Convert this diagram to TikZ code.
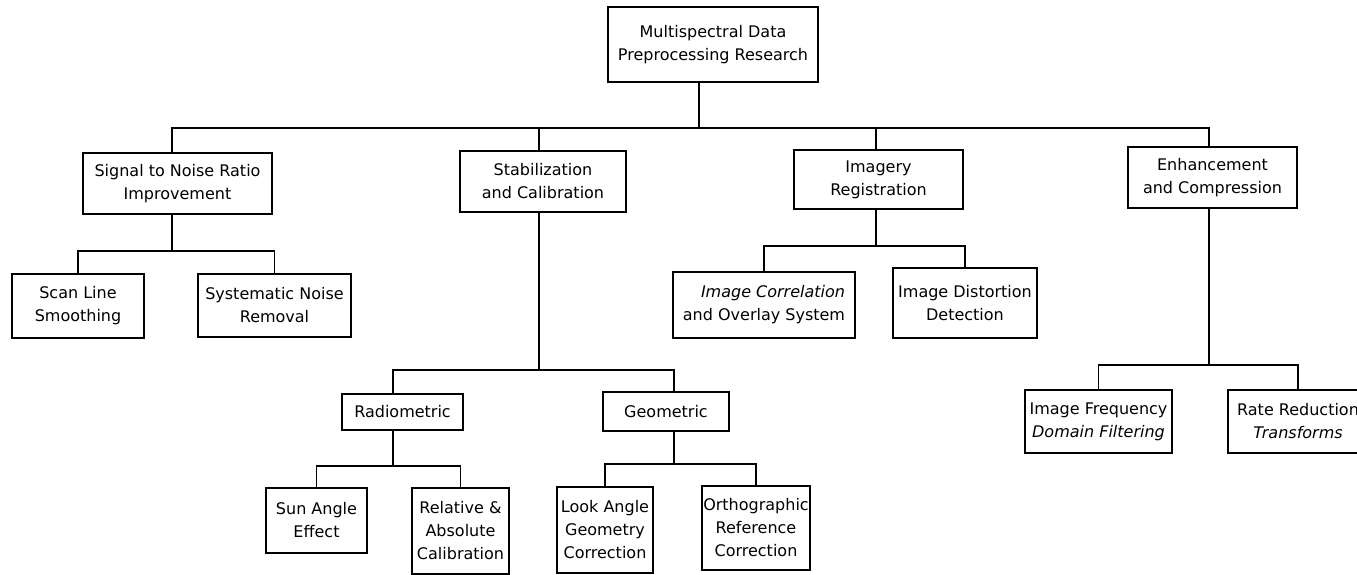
\documentclass[tikz,border=0pt]{standalone}
\usepackage{fontspec}
\setmainfont{DejaVu Sans}
\usepackage{tikz}
\tikzstyle{box} = [rectangle, draw=black, line width=1.6pt, align=center, inner sep=1pt, font=\fontsize{16}{23}\selectfont]
\tikzstyle{line} = [line width=1.6pt]

\begin{document}
\begin{tikzpicture}[x=1pt, y=-1pt]
    \fill[white] (0,0) rectangle (1357,575);
    \useasboundingbox (0,0) rectangle (1357,575);

    % Top
    \node[box, minimum width=210pt, minimum height=75pt] (root) at (713,44.5) {Multispectral Data\\Preprocessing Research};

    % First level
    \node[box, minimum width=189pt, minimum height=61pt] (sig) at (177.5,183.5) {Signal to Noise Ratio\\Improvement};
    \node[box, minimum width=166pt, minimum height=61pt] (stab) at (543,181.5) {Stabilization\\and Calibration};
    \node[box, minimum width=169pt, minimum height=59pt] (img) at (878.5,179.5) {Imagery\\Registration};
    \node[box, minimum width=169pt, minimum height=61pt] (enh) at (1212.5,177.5) {Enhancement\\and Compression};

    % Signal to noise
    \node[box, minimum width=132pt, minimum height=64pt] (scan) at (78,306) {Scan Line\\Smoothing};
    \node[box, minimum width=153pt, minimum height=63pt] (sys) at (274.5,305.5) {Systematic Noise\\Removal};

    % Registration
    \node[box, align=right, minimum width=182pt, minimum height=66pt] (corr) at (764,305) {\itshape Image Correlation\\and Overlay System};
    \node[box, minimum width=144pt, minimum height=70pt] (dist) at (965,303) {Image Distortion\\Detection};

    % Enhancement
    \node[box, minimum width=147pt, minimum height=63pt] (freq) at (1098.5,421.5) {Image Frequency\\\textit{Domain Filtering}};
    \node[box, minimum width=140pt, minimum height=63pt] (rate) at (1298,421.5) {Rate Reduction\\\textit{Transforms}};

    % Calibration
    \node[box, minimum width=121pt, minimum height=36pt] (rad) at (402.5,412) {Radiometric};
    \node[box, minimum width=126pt, minimum height=39pt] (geo) at (666,411.5) {Geometric};
    \node[box, minimum width=101pt, minimum height=65pt] (sun) at (316.5,520.5) {Sun Angle\\Effect};
    \node[box, minimum width=97pt, minimum height=86pt] (rel) at (460.5,531) {Relative \&\\Absolute\\Calibration};
    \node[box, minimum width=96pt, minimum height=86pt] (look) at (605,530) {Look Angle\\Geometry\\Correction};
    \node[box, minimum width=106pt, minimum height=84pt] (ortho) at (756,528) {Orthographic\\Reference\\Correction};

    % Junctions
    \coordinate (b0) at (699,128);
    \coordinate (b1) at (172,251);
    \coordinate (b2) at (539,370);
    \coordinate (b3) at (393,466);
    \coordinate (b4) at (674,464);
    \coordinate (b5) at (1209,365);
    \coordinate (b6) at (876,246);

    % Lines
    \draw[line] (root.south -| b0) -- (b0);
    \draw[line] (sig.north -| b1) |- (b0) -| (enh.north -| b5);
    \draw[line] (stab.north -| b2) -- (b2 |- b0);
    \draw[line] (img.north -| b6) -- (b6 |- b0);

    \draw[line] (sig.south -| b1) -- (b1);
    \draw[line] (scan.north) |- (b1) -| (sys.north);

    \draw[line] (img.south -| b6) -- (b6);
    \draw[line] (corr.north) |- (b6) -| (dist.north);

    \draw[line] (enh.south -| b5) -- (b5);
    \draw[line] (freq.north) |- (b5) -| (rate.north);

    \draw[line] (stab.south -| b2) -- (b2);
    \draw[line] (rad.north -| b3) |- (b2) -| (geo.north -| b4);

    \draw[line] (rad.south -| b3) -- (b3);
    \draw[line] (sun.north) |- (b3) -| (rel.north);

    \draw[line] (geo.south -| b4) -- (b4);
    \draw[line] (look.north) |- (b4) -| (ortho.north);
\end{tikzpicture}
\end{document}
